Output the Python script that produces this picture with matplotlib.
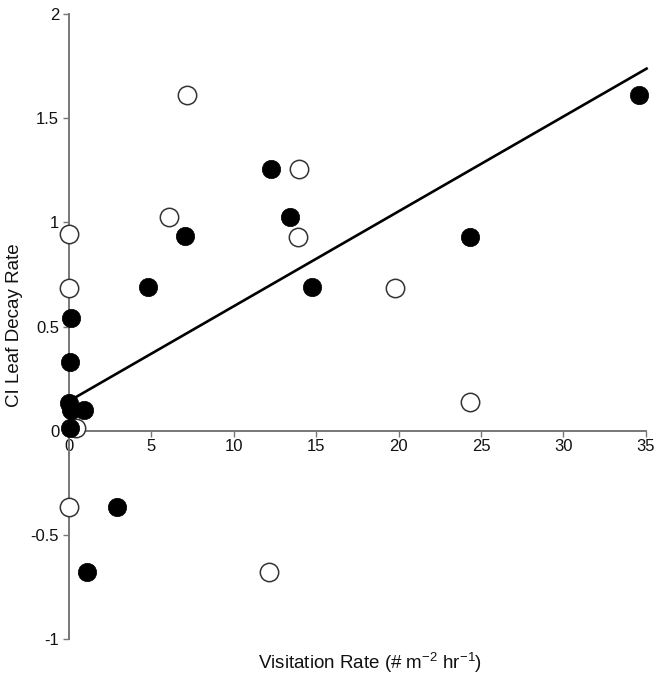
import matplotlib
matplotlib.use("Agg")

import matplotlib.pyplot as plt

plt.rcParams["font.family"] = ["Liberation Sans", "DejaVu Sans"]

# open circles
open_x = [7.15, 13.97, 6.08, 13.89, 0.0, 0.0, 19.76, 24.36, 0.4, 0.0, 12.11]
open_y = [1.613, 1.255, 1.024, 0.932, 0.945, 0.687, 0.687, 0.137, 0.013, -0.365, -0.68]

# filled circles
filled_x = [34.59, 12.25, 13.39, 7.03, 24.36, 4.82, 14.74, 0.1, 0.05, 0.0, 0.9, 0.1, 0.05, 2.9, 1.07]
filled_y = [1.613, 1.255, 1.024, 0.936, 0.932, 0.689, 0.689, 0.543, 0.328, 0.132, 0.097, 0.10, 0.013, -0.365, -0.68]

# regression line
fit_x = [0.0, 35.05]
fit_y = [0.142, 1.738]

xticks = [0, 5, 10, 15, 20, 25, 30, 35]
xtick_labels = ["0", "5", "10", "15", "20", "25", "30", "35"]
yticks = [-1, -0.5, 0, 0.5, 1, 1.5, 2]
ytick_labels = ["-1", "-0.5", "0", "0.5", "1", "1.5", "2"]

fig = plt.figure(figsize=(6.63, 6.78), dpi=100)
ax = fig.add_axes([0.104, 0.0575, 0.870, 0.9218])

ax.plot(fit_x, fit_y, color="black", lw=1.9, zorder=2, clip_on=False)

ax.scatter(open_x, open_y, s=175, facecolor="white", edgecolor="#333333",
           linewidths=1.1, zorder=3, clip_on=False)
ax.scatter(filled_x, filled_y, s=175, facecolor="black", edgecolor="black",
           linewidths=0.5, zorder=4, clip_on=False)

ax.set_xlim(0, 35)
ax.set_ylim(-1, 2)

for side in ["top", "right"]:
    ax.spines[side].set_visible(False)
ax.spines["left"].set_position(("data", 0))
ax.spines["bottom"].set_position(("data", 0))
for side in ["left", "bottom"]:
    ax.spines[side].set_color("#777777")
    ax.spines[side].set_linewidth(1.4)

ax.set_xticks(xticks)
ax.set_xticklabels(xtick_labels)
ax.set_yticks(yticks)
ax.set_yticklabels(ytick_labels)
ax.tick_params(axis="both", direction="out", length=4, width=1.0,
               color="#777777", labelsize=12, labelcolor="#111111", pad=3)
ax.tick_params(axis="x", pad=2)

fig.text(0.558, 0.022, "Visitation Rate (# m$^{\\mathregular{-2}}$ hr$^{\\mathregular{-1}}$)",
         ha="center", va="center", fontsize=13.5, color="#111111")
fig.text(0.022, 0.52, "CI Leaf Decay Rate", ha="center", va="center",
         rotation=90, fontsize=13.5, color="#111111")

fig.savefig("out.png", dpi=100)
